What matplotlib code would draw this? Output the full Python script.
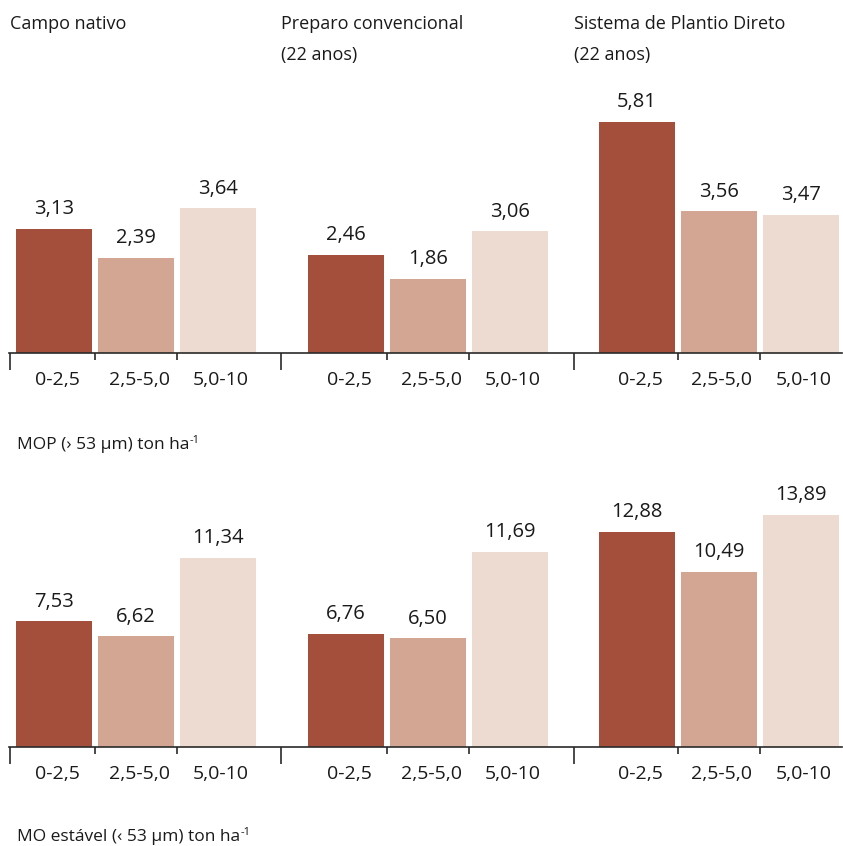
import matplotlib
matplotlib.use("Agg")
import matplotlib.pyplot as plt
from matplotlib.transforms import blended_transform_factory

plt.rcParams['font.family'] = ['Open Sans', 'DejaVu Sans']

# Data
systems = ["Campo nativo", "Preparo convencional\n(22 anos)", "Sistema de Plantio Direto\n(22 anos)"]
depths = ["0-2,5", "2,5-5,0", "5,0-10"]
mop = [[3.13, 2.39, 3.64], [2.46, 1.86, 3.06], [5.81, 3.56, 3.47]]
mo_stable = [[7.53, 6.62, 11.34], [6.76, 6.50, 11.69], [12.88, 10.49, 13.89]]
panel_labels = ["MOP (\u203a 53 \u00b5m) ton ha", "MO est\u00e1vel (\u2039 53 \u00b5m) ton ha"]
unit_exp = "-1"

colors = ["#A44F3C", "#D3A693", "#EDDAD0"]
axis_color = "#2a2a2a"
text_color = "#1a1a1a"

W, H = 843, 846
fig = plt.figure(figsize=(W / 100, H / 100), dpi=100)
renderer = fig.canvas.get_renderer()

group_left = [16, 308, 599]
group_tick = [10, 281, 574]
bar_w = 76
pitch = 82


def fy(py):
    return 1 - py / H


def panel(values, baseline_px, ymax, label, label_y, titles=False):
    height_px = 240
    ax = fig.add_axes([0, fy(baseline_px), 1, height_px / H])
    ax.set_xlim(0, W)
    ax.set_ylim(0, ymax)
    for s in ["top", "right", "left"]:
        ax.spines[s].set_visible(False)
    ax.spines["bottom"].set_bounds(9, W - 1)
    ax.spines["bottom"].set_color(axis_color)
    ax.spines["bottom"].set_linewidth(1.2)
    ax.set_yticks([])

    centers = []
    minor = []
    for g, vals in enumerate(values):
        for i, v in enumerate(vals):
            left = group_left[g] + i * pitch
            c = left + bar_w / 2
            centers.append(c)
            ax.bar(c, v, width=bar_w, color=colors[i], zorder=2)
            ax.annotate(f"{v:.2f}".replace(".", ","), (c, v), xytext=(0, 7),
                        textcoords="offset points", ha="center", va="bottom",
                        fontsize=14.5, color=text_color)
            if i < 2:
                minor.append(left + bar_w + (pitch - bar_w) / 2)

    ax.set_xticks(group_tick)
    ax.set_xticks(minor, minor=True)
    ax.tick_params(axis="x", which="major", length=12, width=1.2, color=axis_color,
                   labelbottom=False, direction="out")
    ax.tick_params(axis="x", which="minor", length=5, width=1.2, color=axis_color,
                   labelbottom=False, direction="out")

    tr = blended_transform_factory(ax.transData, fig.transFigure)
    for g in range(3):
        for i, d in enumerate(depths):
            c = centers[g * 3 + i] + 3
            ax.text(c, fy(baseline_px + 27), d, transform=tr, ha="center", va="center",
                    fontsize=14, color=text_color)

    t = fig.text(17 / W, fy(label_y), label, ha="left", va="baseline", fontsize=12.5,
                 color=text_color)
    bb = t.get_window_extent(renderer)
    fig.text(bb.x1 / W + 0.5 / W, fy(label_y) + 6 / H, unit_exp, ha="left",
             va="baseline", fontsize=8, color=text_color)

    if titles:
        for g, ttl in enumerate(systems):
            fig.text(group_tick[g] / W, fy(15), ttl, ha="left", va="top",
                     fontsize=13, color=text_color, linespacing=1.9)
    return ax


panel(mop, 353, 5.81 * 240 / 231, panel_labels[0], 449, titles=True)
panel(mo_stable, 747, 13.89 * 240 / 232, panel_labels[1], 841)

fig.savefig("out.png", dpi=100)
